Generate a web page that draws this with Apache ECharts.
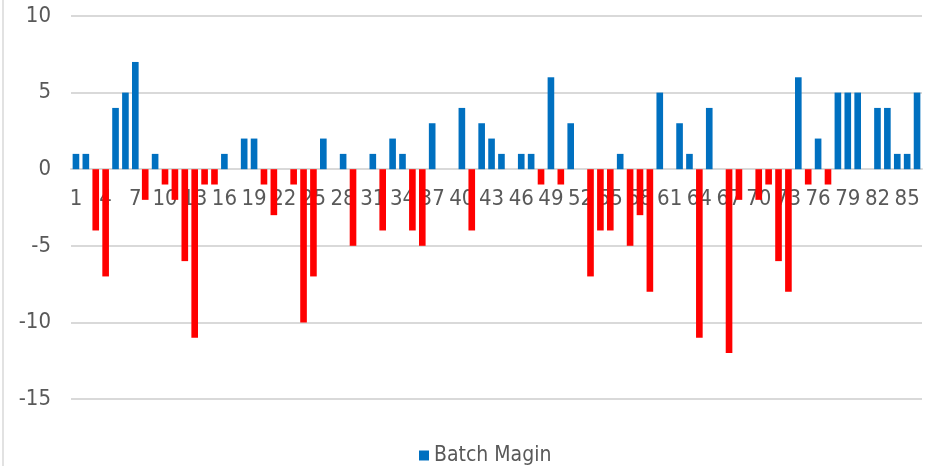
<!DOCTYPE html>
<html>
<head>
<meta charset="utf-8">
<script src="https://cdn.jsdelivr.net/npm/echarts@6/dist/echarts.min.js"></script>
<style>html,body{margin:0;padding:0;background:#fff}#c{width:925px;height:466px}</style>
</head>
<body>
<div id="c"></div>
<script>
var categories = [];
for (var i = 1; i <= 86; i++) categories.push(String(i));
var batchMargin = [1, 1, -4, -7, 4, 5, 7, -2, 1, -1, -2, -6, -11, -1, -1, 1, 0, 2, 2, -1, -3, 0, -1, -10, -7, 2, 0, 1, -5, 0, 1, -4, 2, 1, -4, -5, 3, 0, 0, 4, -4, 3, 2, 1, 0, 1, 1, -1, 6, -1, 3, 0, -7, -4, -4, 1, -5, -3, -8, 5, 0, 3, 1, -11, 4, 0, -12, -2, 0, -2, -1, -6, -8, 6, -1, 2, -1, 5, 5, 5, 0, 4, 4, 1, 1, 5];
var yTicks = { min: -15, max: 10, interval: 5 };
var seriesName = 'Batch Magin';

var FONT = "'Liberation Sans Narrow', 'DejaVu Sans Condensed', 'Liberation Sans', sans-serif";
var BLUE = '#0070C0', RED = '#FF0000', GRID = '#D9D9D9', TXT = '#595959';

var gridTop = 16, gridBottom = 67, H = 466;
var plotH = H - gridTop - gridBottom;
var zeroOffset = -((0 - yTicks.min) / (yTicks.max - yTicks.min)) * plotH;

var chart = echarts.init(document.getElementById('c'));
chart.setOption({
  animation: false,
  backgroundColor: '#fff',
  grid: { left: 71, right: 3, top: gridTop, bottom: gridBottom, containLabel: false },
  legend: {
    data: [seriesName], left: 414, top: 440, icon: 'rect', itemWidth: 10, itemHeight: 10, itemGap: 7,
    textStyle: { fontFamily: FONT, fontSize: 21, color: TXT }
  },
  xAxis: {
    type: 'category', data: categories, position: 'bottom', offset: zeroOffset,
    axisLine: { show: true, onZero: false, lineStyle: { color: GRID, width: 2 } },
    axisTick: { show: false },
    axisLabel: { interval: 2, fontFamily: FONT, fontSize: 22, color: TXT, margin: 19 }
  },
  yAxis: {
    type: 'value', min: yTicks.min, max: yTicks.max, interval: yTicks.interval,
    axisLine: { show: false }, axisTick: { show: false },
    splitLine: { lineStyle: { color: GRID, width: 2 } },
    axisLabel: { fontFamily: FONT, fontSize: 22, color: TXT, margin: 20 }
  },
  graphic: [{ type: 'line', shape: { x1: 3, y1: 0, x2: 3, y2: 466 }, style: { stroke: '#D9D9D9', lineWidth: 1.5 } }],
  series: [{
    name: seriesName, type: 'bar', barCategoryGap: '33%',
    itemStyle: { color: BLUE },
    data: batchMargin.map(function (v) {
      return v < 0 ? { value: v, itemStyle: { color: RED } } : v;
    })
  }]
});
</script>
</body>
</html>
